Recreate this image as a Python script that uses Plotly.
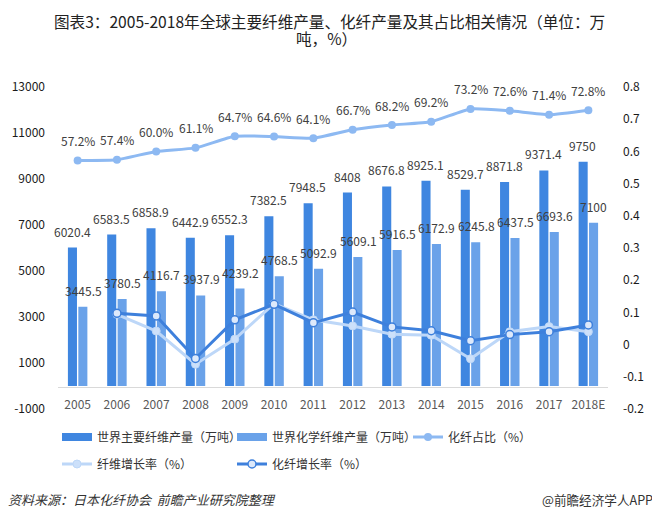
import plotly.graph_objects as go

years = ["2005", "2006", "2007", "2008", "2009", "2010", "2011", "2012", "2013", "2014", "2015", "2016", "2017", "2018E"]
fiber_output = [6020.4, 6583.5, 6858.9, 6442.9, 6552.3, 7382.5, 7948.5, 8408, 8676.8, 8925.1, 8529.7, 8871.8, 9371.4, 9750]
chem_output = [3445.5, 3780.5, 4116.7, 3937.9, 4239.2, 4768.5, 5092.9, 5609.1, 5916.5, 6172.9, 6245.8, 6437.5, 6693.6, 7100]
chem_share = [0.572, 0.574, 0.600, 0.611, 0.647, 0.646, 0.641, 0.667, 0.682, 0.692, 0.732, 0.726, 0.714, 0.728]
fiber_growth = [None, 0.094, 0.042, -0.061, 0.017, 0.127, 0.077, 0.058, 0.032, 0.029, -0.044, 0.040, 0.056, 0.040]
chem_growth = [None, 0.097, 0.089, -0.043, 0.077, 0.125, 0.068, 0.101, 0.055, 0.043, 0.012, 0.031, 0.040, 0.061]

left_ticks = [-1000, 1000, 3000, 5000, 7000, 9000, 11000, 13000]
left_tick_text = ["-1000", "1000", "3000", "5000", "7000", "9000", "11000", "13000"]
right_ticks = [-0.2, -0.1, 0, 0.1, 0.2, 0.3, 0.4, 0.5, 0.6, 0.7, 0.8]
right_tick_text = ["-0.2", "-0.1", "0", "0.1", "0.2", "0.3", "0.4", "0.5", "0.6", "0.7", "0.8"]

title_line1 = "图表3：2005-2018年全球主要纤维产量、化纤产量及其占比相关情况（单位：万"
title_line2 = "吨，%）"
source_text = "资料来源：日本化纤协会  前瞻产业研究院整理"
brand_text = "@前瞻经济学人APP"

FONT = "Noto Sans CJK SC"
DARK_BAR = "#3F86E0"
LIGHT_BAR = "#6AA2E9"
SHARE_LINE = "#8DB9F2"
FG_LINE = "#BDD7F8"
CG_LINE = "#3E80DC"

# page body has an 8px margin: figure is drawn from (8, 8) of the window
OFF = 8
W, H = 660 - OFF, 517 - OFF
PL, PR, PT, PB = 58, 608, 87, 409   # plot area in window pixels


def px_x(px):
    return (px - PL) / (PR - PL)


def px_y(py):
    return (PB - py) / (PB - PT)


fig = go.Figure()

fig.add_trace(go.Bar(x=years, y=fiber_output, name="世界主要纤维产量（万吨）",
                     marker=dict(color=DARK_BAR, line=dict(width=0)), showlegend=False))
fig.add_trace(go.Bar(x=years, y=chem_output, name="世界化学纤维产量（万吨）",
                     marker=dict(color=LIGHT_BAR, line=dict(width=0)), showlegend=False))
# legend keys for the bars: wide flat swatches as in the original
fig.add_trace(go.Scatter(x=[None], y=[None], name="世界主要纤维产量（万吨）", mode="lines",
                         line=dict(color=DARK_BAR, width=8), legend="legend", hoverinfo="skip"))
fig.add_trace(go.Scatter(x=[None], y=[None], name="世界化学纤维产量（万吨）", mode="lines",
                         line=dict(color=LIGHT_BAR, width=8), legend="legend2", hoverinfo="skip"))
fig.add_trace(go.Scatter(x=years, y=chem_share, name="化纤占比（%）", yaxis="y2",
                         mode="lines+markers",
                         line=dict(color=SHARE_LINE, width=3, shape="spline", smoothing=0.5),
                         marker=dict(color=SHARE_LINE, size=8), legend="legend3"))
fig.add_trace(go.Scatter(x=years, y=fiber_growth, name="纤维增长率（%）", yaxis="y2",
                         mode="lines+markers",
                         line=dict(color=FG_LINE, width=3),
                         marker=dict(color="#CCE0FA", size=8, line=dict(color=FG_LINE, width=1)),
                         legend="legend4"))
fig.add_trace(go.Scatter(x=years, y=chem_growth, name="化纤增长率（%）", yaxis="y2",
                         mode="lines+markers",
                         line=dict(color=CG_LINE, width=3),
                         marker=dict(color="#DDE9FB", size=8, line=dict(color=CG_LINE, width=1.5)),
                         legend="legend5"))

annotations = []
lab_font = dict(size=12, color="#404040", family=FONT)
for i, v in enumerate(fiber_output):
    annotations.append(dict(x=i, y=v, xref="x", yref="y", text=f"{v:g}", showarrow=False,
                            xshift=-5.5, yshift=16.5, yanchor="middle", font=lab_font))
for i, v in enumerate(chem_output):
    annotations.append(dict(x=i, y=v, xref="x", yref="y", text=f"{v:g}", showarrow=False,
                            xshift=5.5, yshift=16.5, yanchor="middle", font=lab_font))
for i, v in enumerate(chem_share):
    annotations.append(dict(x=i, y=v, xref="x", yref="y2", text=f"{v*100:.1f}%", showarrow=False,
                            yshift=20, yanchor="middle", font=lab_font))

annotations.append(dict(x=px_x(329), y=px_y(21), xref="paper", yref="paper", text=title_line1,
                        showarrow=False, xanchor="center", yanchor="middle",
                        font=dict(size=15.6, color="#222222", family=FONT)))
annotations.append(dict(x=px_x(326), y=px_y(38), xref="paper", yref="paper", text=title_line2,
                        showarrow=False, xanchor="center", yanchor="middle",
                        font=dict(size=15.6, color="#222222", family=FONT)))
annotations.append(dict(x=px_x(6), y=px_y(499), xref="paper", yref="paper", text=f"<i>{source_text}</i>",
                        showarrow=False, xanchor="left", yanchor="middle",
                        font=dict(size=13, color="#333333", family=FONT)))
annotations.append(dict(x=px_x(655), y=px_y(499), xref="paper", yref="paper", text=brand_text,
                        showarrow=False, xanchor="right", yanchor="middle",
                        font=dict(size=12.6, color="#333333", family=FONT)))

leg_font = dict(size=12, color="#333333", family=FONT)


def leg(x_text, y_mid):
    # item text starts ~40px after the legend's left edge
    return dict(orientation="h", x=px_x(x_text - 40), y=px_y(y_mid), xanchor="left", yanchor="middle",
                bgcolor="rgba(0,0,0,0)", borderwidth=0, font=leg_font)


fig.update_layout(
    width=W, height=H, autosize=False,
    margin=dict(l=PL - OFF, r=W - (PR - OFF), t=PT - OFF, b=H - (PB - OFF), pad=0, autoexpand=False),
    paper_bgcolor="white", plot_bgcolor="white",
    font=dict(family=FONT, size=12, color="#333333"),
    barmode="group", bargap=0.47, bargroupgap=0.13,
    showlegend=True,
    xaxis=dict(type="category", range=[-0.5, len(years) - 0.5], autorange=False,
               anchor="free", position=px_y(387), automargin=False,
               showline=True, linecolor="#D9D9D9", linewidth=1,
               showgrid=False, zeroline=False, ticks="",
               ticklabelstandoff=7,
               tickfont=dict(size=12, color="#595959", family=FONT)),
    yaxis=dict(range=[-1000, 13000], autorange=False, tickvals=left_ticks, ticktext=left_tick_text,
               showgrid=False, zeroline=False, showline=False, ticks="", automargin=False,
               ticklabelstandoff=12,
               tickfont=dict(size=12, color="#1A1A1A", family=FONT)),
    yaxis2=dict(range=[-0.2, 0.8], autorange=False, tickvals=right_ticks, ticktext=right_tick_text,
                overlaying="y", side="right", showgrid=False, zeroline=False, showline=False,
                ticks="", ticklabelstandoff=14, automargin=False,
                tickfont=dict(size=12, color="#1A1A1A", family=FONT)),
    legend=leg(97, 437),
    legend2=leg(272, 437),
    legend3=leg(448, 437),
    legend4=leg(97, 464),
    legend5=leg(272, 464),
    annotations=annotations,
)

fig.write_html("out.html")
